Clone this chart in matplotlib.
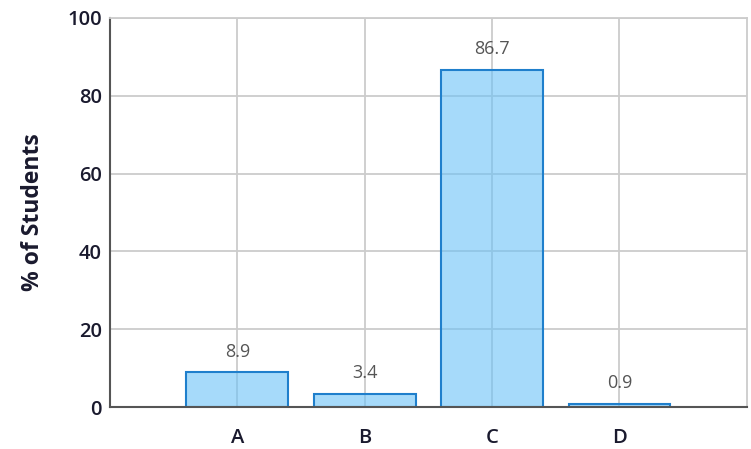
import matplotlib.pyplot as plt
from matplotlib import rcParams

categories = ["A", "B", "C", "D"]
percent = [8.9, 3.4, 86.7, 0.9]
y_ticks = [0, 20, 40, 60, 80, 100]

rcParams['font.family'] = ['Open Sans', 'DejaVu Sans']

fig = plt.figure(figsize=(7.51, 4.49), dpi=100)
ax = fig.add_axes([0.1465, 0.0935, 0.848, 0.8665])

x = list(range(len(categories)))
ax.bar(x, percent, width=0.8, color=(0.42, 0.76, 0.97, 0.6),
       edgecolor='#1f7fcc', linewidth=1.5, zorder=2)

# value labels above each bar
for xi, v in zip(x, percent):
    ax.text(xi, v + 3.0, "{:.1f}".format(v), ha='center', va='bottom',
            fontsize=13, color='#555555', zorder=3)

ax.set_xlim(-1, 4)
ax.set_ylim(0, 100)
ax.set_xticks(x)
ax.set_xticklabels(categories)
ax.set_yticks(y_ticks)
ax.tick_params(length=0, labelsize=14.5, colors='#1a1a2e')
ax.tick_params(axis='x', pad=15)
ax.tick_params(axis='y', pad=6)
for lab in ax.get_xticklabels() + ax.get_yticklabels():
    lab.set_fontweight('semibold')

ax.set_ylabel("% of Students", fontsize=16.5, fontweight='bold',
              color='#1a1a2e', labelpad=16)

ax.grid(color='#cccccc', linewidth=1.3, zorder=1)
ax.set_axisbelow(True)
for side in ['top', 'right']:
    ax.spines[side].set_color('#cccccc')
    ax.spines[side].set_linewidth(1.3)
for side in ['left', 'bottom']:
    ax.spines[side].set_color('#555555')
    ax.spines[side].set_linewidth(1.5)

fig.savefig("out.png", dpi=100)
